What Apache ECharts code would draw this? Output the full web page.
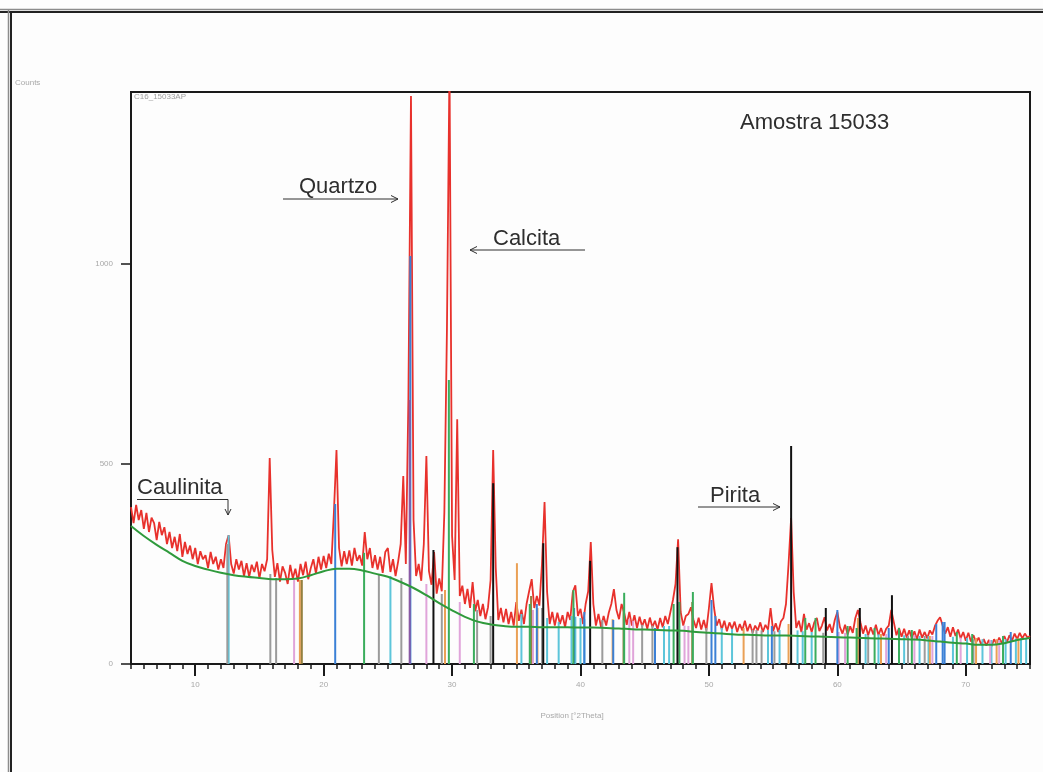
<!DOCTYPE html>
<html>
<head>
<meta charset="utf-8">
<title>Amostra 15033</title>
<script src="https://cdn.jsdelivr.net/npm/echarts@6/dist/echarts.min.js"></script>
<style>
  html, body { margin: 0; padding: 0; background: #fdfdfd; }
  #chart { width: 1043px; height: 772px; }
</style>
</head>
<body>
<div id="chart"></div>
<script>
// Measured scan: start angle and step in °2Theta, then counts per step
const scanStart = 5;
const scanStep = 0.2;
const scanCounts = [
  392, 352, 398, 360, 385,   // 5
  338, 378, 330, 366, 352,   // 6
  310, 355, 322, 342, 300,   // 7
  330, 290, 318, 282, 325,   // 8
  268, 305, 275, 296, 262,   // 9
  290, 250, 282, 262, 272,   // 10
  240, 280, 250, 268, 236,   // 11
  262, 240, 300, 322, 250,   // 12
  226, 262, 236, 258, 220,   // 13
  252, 218, 248, 230, 256,   // 14
  214, 250, 232, 262, 515,   // 15
  285, 218, 252, 206, 244,   // 16
  228, 200, 248, 214, 238,   // 17
  206, 250, 222, 256, 212,   // 18
  240, 262, 226, 268, 236,   // 19
  270, 240, 276, 250, 380,   // 20
  535, 290, 244, 282, 250,   // 21
  284, 246, 290, 258, 272,   // 22
  246, 330, 262, 290, 240,   // 23
  272, 236, 268, 228, 280,   // 24
  290, 230, 262, 220, 256,   // 25
  300, 470, 250, 665, 1420,  // 26
  360, 220, 250, 208, 300,   // 27
  520, 232, 198, 280, 176,   // 28
  214, 182, 380, 835, 1500,  // 29
  320, 210, 612, 170, 196,   // 30
  150, 188, 140, 205, 132,   // 31
  160, 120, 150, 112, 142,   // 32
  210, 535, 240, 110, 140,   // 33
  104, 138, 100, 130, 96,    // 34
  155, 108, 136, 100, 150,   // 35
  182, 212, 140, 170, 146,   // 36
  250, 405, 180, 100, 130,   // 37
  96, 128, 100, 122, 92,     // 38
  130, 110, 180, 197, 120,   // 39
  138, 100, 150, 182, 305,   // 40
  150, 96, 125, 92, 120,     // 41
  96, 128, 150, 187, 135,    // 42
  112, 150, 128, 98, 130,    // 43
  96, 122, 90, 118, 94,      // 44
  112, 88, 116, 92, 108,     // 45
  86, 115, 92, 120, 100,     // 46
  130, 160, 200, 312, 130,   // 47
  96, 120, 125, 142, 110,    // 48
  90, 116, 86, 110, 84,      // 49
  140, 202, 140, 96, 112,    // 50
  86, 108, 82, 104, 88,      // 51
  106, 80, 100, 84, 108,     // 52
  82, 100, 78, 96, 84,       // 53
  104, 80, 98, 86, 140,      // 54
  82, 102, 80, 106, 115,     // 55
  150, 250, 365, 180, 90,    // 56
  108, 80, 125, 86, 102,     // 57
  80, 104, 115, 82, 96,      // 58
  117, 84, 100, 78, 110,     // 59
  130, 92, 76, 98, 74,       // 60
  94, 78, 115, 135, 104,     // 61
  76, 96, 72, 92, 74,        // 62
  98, 72, 90, 70, 88,        // 63
  96, 135, 104, 72, 90,      // 64
  68, 88, 66, 84, 64,        // 65
  82, 62, 86, 66, 80,        // 66
  64, 84, 74, 95, 108,       // 67
  117, 96, 76, 92, 68,       // 68
  92, 70, 86, 64, 80,        // 69
  58, 78, 56, 72, 54,        // 70
  66, 48, 62, 46, 60,        // 71
  44, 62, 50, 66, 52,        // 72
  70, 54, 72, 58, 76,        // 73
  62, 78, 64, 76, 66,        // 74
  70                         // 75
];

// Fitted background, one value per degree from 5 to 75
const bgStart = 5;
const bgStep = 1;
const bgCounts = [
  345, 320, 298, 278, 258, 245, 236, 228, 222, 218,   // 5-14
  215, 212, 212, 214, 222, 232, 238, 238, 234, 226,   // 15-24
  218, 205, 190, 172, 152, 134, 118, 106, 99, 95,     // 25-34
  93, 93, 92, 92, 92, 91, 91, 90, 89, 87,             // 35-44
  86, 85, 84, 83, 80, 78, 76, 74, 73, 72,             // 45-54
  71, 71, 70, 69, 68, 67, 66, 65, 64, 63,             // 55-64
  62, 61, 59, 56, 53, 51, 48, 48, 52, 60,             // 65-74
  65                                                  // 75
];

// Reference patterns: [°2Theta, stick height in counts]
const sticksCyan = [
  [12.6, 322], [25.2, 220], [35.4, 125], [37.4, 115], [38.3, 105], [39.3, 120], [39.6, 118],
  [40.0, 115], [40.3, 112], [46.5, 95], [46.9, 95], [51.0, 90], [51.8, 88], [54.6, 85],
  [55.5, 85], [56.9, 84], [57.3, 82], [58.0, 80], [62.2, 75], [63.2, 74], [65.2, 72],
  [66.4, 70], [67.1, 70], [69.0, 68], [70.1, 65], [71.3, 62], [72.0, 60], [73.1, 62],
  [73.9, 64], [74.3, 65], [74.7, 65]
];
const sticksGrey = [
  [12.5, 300], [15.85, 225], [16.3, 215], [24.3, 225], [26.05, 215], [29.2, 175], [31.95, 135],
  [33.0, 120], [37.0, 140], [41.7, 110], [44.8, 98], [45.6, 96], [49.8, 90], [53.4, 85],
  [53.7, 85], [54.1, 84], [55.1, 82], [58.9, 78], [62.4, 72], [65.5, 70], [66.8, 70], [70.6, 62]
];
const sticksPink = [
  [17.7, 210], [28.0, 200], [30.6, 155], [36.3, 135], [43.8, 112], [44.1, 108], [48.1, 96],
  [48.4, 95], [60.1, 80], [60.6, 78], [63.8, 75], [66.0, 72], [67.4, 70], [69.6, 66],
  [71.9, 60], [72.6, 60]
];
const sticksOrange = [
  [18.15, 210], [29.45, 185], [35.05, 252], [36.65, 140], [42.5, 112], [52.7, 90], [56.2, 100],
  [61.6, 115], [63.4, 75], [67.2, 70], [70.8, 65], [72.4, 62], [74.1, 65]
];
const sticksBrown = [[18.3, 210], [36.15, 170], [43.35, 142], [48.7, 155]];
const sticksBlue = [
  [20.9, 400], [26.75, 1020], [36.6, 150], [39.5, 140], [40.3, 130], [42.55, 110], [45.8, 90],
  [50.2, 160], [50.5, 120], [54.9, 95], [60.0, 135], [64.0, 90], [67.7, 100], [68.2, 105],
  [68.35, 105], [73.5, 80]
];
const sticksPurple = [[26.7, 660]];
const sticksGreen = [
  [23.15, 278], [29.75, 710], [31.7, 150], [36.05, 150], [39.45, 185], [43.4, 178], [47.25, 150],
  [47.7, 155], [48.75, 180], [57.5, 115], [58.3, 115], [60.8, 95], [61.5, 90], [62.9, 90],
  [64.8, 90], [65.8, 85], [69.3, 80], [70.5, 75], [72.9, 70]
];
const sticksBlack = [
  [28.55, 285], [33.2, 452], [37.1, 302], [40.75, 258], [47.55, 292], [56.4, 545],
  [59.1, 140], [61.75, 140], [64.25, 172]
];

// Axis ticks and labels
const xMajorTicks = [10, 20, 30, 40, 50, 60, 70];
const yMajorTicks = [0, 500, 1000];

const FONT = "'Liberation Sans', Arial, sans-serif";

const scanData = scanCounts.map((v, i) => [+(scanStart + i * scanStep).toFixed(2), v]);
const bgData = bgCounts.map((v, i) => [bgStart + i * bgStep, v]);

function stickItem(params, api) {
  const p0 = api.coord([api.value(0), 0]);
  const p1 = api.coord([api.value(0), api.value(1)]);
  return {
    type: 'line',
    shape: { x1: p0[0], y1: p0[1], x2: p1[0], y2: p1[1] },
    style: { stroke: api.visual('color'), lineWidth: 2 }
  };
}

function stickSeries(data, color) {
  return {
    type: 'custom',
    renderItem: stickItem,
    data: data,
    encode: { x: 0, y: 1 },
    itemStyle: { color: color },
    clip: true,
    z: 3,
    silent: true
  };
}

function textEl(text, x, y, size, color, align) {
  return {
    type: 'text', z: 100, silent: true,
    style: {
      text: text, x: x, y: y, fill: color,
      font: size + 'px ' + FONT,
      textAlign: align || 'left', textVerticalAlign: 'middle'
    }
  };
}
function lineEl(x1, y1, x2, y2, color, width) {
  return {
    type: 'line', z: 100, silent: true,
    shape: { x1: x1, y1: y1, x2: x2, y2: y2 },
    style: { stroke: color, lineWidth: width || 1 }
  };
}

const ink = '#2e2e2e';

const chart = echarts.init(document.getElementById('chart'), null, { renderer: 'canvas' });
chart.setOption({
  backgroundColor: '#fdfdfd',
  animation: false,
  grid: {
    left: 131, right: 13, top: 92, bottom: 108,
    show: true, borderColor: '#1a1a1a', borderWidth: 2, backgroundColor: 'transparent'
  },
  xAxis: [
    {
      type: 'value', min: 5, max: 75, interval: 1, position: 'bottom',
      axisLine: { show: true, onZero: false, lineStyle: { color: '#1a1a1a', width: 2 } },
      axisTick: { show: true, length: 5, lineStyle: { color: '#1a1a1a', width: 1.5 } },
      axisLabel: { show: false },
      splitLine: { show: false }
    },
    {
      type: 'value', min: 5, max: 75, interval: 1, position: 'bottom',
      axisLine: { show: false, onZero: false },
      axisTick: { show: true, length: 12, customValues: xMajorTicks, lineStyle: { color: '#1a1a1a', width: 2 } },
      axisLabel: {
        show: true, customValues: xMajorTicks, fontSize: 8, color: '#a8a8a8', margin: 17,
        fontFamily: FONT, formatter: v => String(v)
      },
      splitLine: { show: false }
    }
  ],
  yAxis: {
    type: 'value', min: 0, max: 1430, interval: 500,
    axisLine: { show: true, lineStyle: { color: '#1a1a1a', width: 2 } },
    axisTick: { show: true, length: 10, customValues: yMajorTicks, lineStyle: { color: '#1a1a1a', width: 1.5 } },
    axisLabel: {
      show: true, customValues: yMajorTicks, fontSize: 8, color: '#a8a8a8', margin: 18,
      fontFamily: FONT, formatter: v => String(v)
    },
    splitLine: { show: false }
  },
  series: [
    {
      type: 'line', data: scanData, showSymbol: false, symbol: 'none',
      lineStyle: { color: '#e8312c', width: 1.8 }, clip: true, z: 2, silent: true
    },
    stickSeries(sticksCyan, '#5cc5da'),
    stickSeries(sticksGrey, '#9b9b9b'),
    stickSeries(sticksPink, '#e0a4da'),
    stickSeries(sticksOrange, '#eaa055'),
    stickSeries(sticksBrown, '#94803f'),
    stickSeries(sticksBlue, '#3b80d6'),
    stickSeries(sticksPurple, '#8a5aa5'),
    stickSeries(sticksGreen, '#3aad5c'),
    stickSeries(sticksBlack, '#111111'),
    {
      type: 'line', data: bgData, smooth: 0.4, showSymbol: false, symbol: 'none',
      lineStyle: { color: '#2f9a3c', width: 2 }, clip: true, z: 4, silent: true
    }
  ],
  graphic: [
    // page frame
    lineEl(0, 9.5, 1043, 9.5, '#8c8c8c', 1.5),
    lineEl(0, 12, 1043, 12, '#222', 2),
    lineEl(8.5, 9, 8.5, 772, '#8c8c8c', 1.5),
    lineEl(11, 11, 11, 772, '#222', 2),
    // axis captions and scan name
    textEl('Counts', 15, 83, 8, '#a8a8a8'),
    textEl('C16_15033AP', 134, 97, 8, '#a0a0a0'),
    textEl('Position [°2Theta]', 572, 716, 8, '#a8a8a8', 'center'),
    // sample title
    textEl('Amostra 15033', 740, 122.5, 22, ink),
    // phase annotations
    textEl('Quartzo', 299, 186.5, 22, ink),
    lineEl(283, 199, 398, 199, ink, 1),
    lineEl(398, 199, 391, 195.5, ink, 1),
    lineEl(398, 199, 391, 202.5, ink, 1),
    textEl('Calcita', 493, 238.5, 22, ink),
    lineEl(585, 250, 470, 250, ink, 1),
    lineEl(470, 250, 477, 246.5, ink, 1),
    lineEl(470, 250, 477, 253.5, ink, 1),
    textEl('Caulinita', 137, 487.5, 22, ink),
    lineEl(137, 499.5, 228, 499.5, ink, 1),
    lineEl(228, 499.5, 228, 515, ink, 1),
    lineEl(228, 515, 225, 509, ink, 1),
    lineEl(228, 515, 231, 509, ink, 1),
    textEl('Pirita', 710, 495.5, 22, ink),
    lineEl(698, 507, 780, 507, ink, 1),
    lineEl(780, 507, 773, 503.5, ink, 1),
    lineEl(780, 507, 773, 510.5, ink, 1)
  ]
});
</script>
</body>
</html>
